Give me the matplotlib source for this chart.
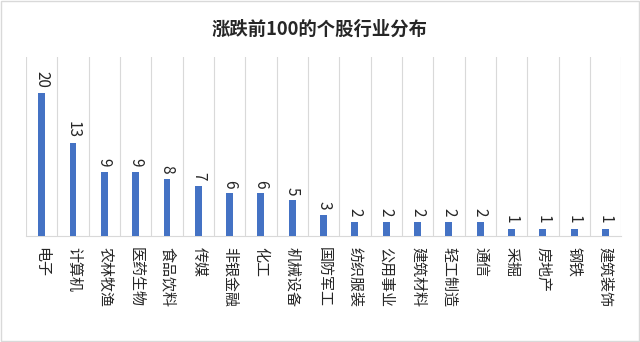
import matplotlib.pyplot as plt
import numpy as np
from matplotlib.patches import Rectangle

plt.rcParams['font.family'] = ['Noto Sans CJK SC', 'DejaVu Sans']

categories = ['电子', '计算机', '农林牧渔', '医药生物', '食品饮料', '传媒', '非银金融', '化工',
              '机械设备', '国防军工', '纺织服装', '公用事业', '建筑材料', '轻工制造', '通信',
              '采掘', '房地产', '钢铁', '建筑装饰']
values = [20, 13, 9, 9, 8, 7, 6, 6, 5, 3, 2, 2, 2, 2, 2, 1, 1, 1, 1]
title = '涨跌前100的个股行业分布'

fig = plt.figure(figsize=(6.4, 3.42), dpi=100)
ax = fig.add_axes([0.0406, 0.310, 0.930, 0.523])
x = np.arange(len(categories))
ax.bar(x, values, width=0.22, color='#4472C4', zorder=3)
ax.set_xlim(-0.5, len(categories) - 0.5)
ax.set_ylim(0, 25)
ax.set_yticks([])
ax.set_xticks(x)
ax.set_xticklabels(categories, rotation=-90, fontsize=10.8, va='top', ha='center', color='#262626')
ax.tick_params(axis='x', length=0, pad=8)
for b in np.arange(-0.5, len(categories), 1.0):
    ax.axvline(b, color='#d9d9d9', lw=0.8, zorder=1)
for s in ['top', 'left', 'right']:
    ax.spines[s].set_visible(False)
ax.spines['bottom'].set_color('#d9d9d9')
for xi, v in zip(x, values):
    ax.text(xi, v + 0.7, str(v), rotation=-90, ha='center', va='bottom', fontsize=11, color='#262626')
fig.text(0.5, 0.915, title, ha='center', va='center', fontsize=13.2, fontweight='bold', color='#262626')
fig.patches.append(Rectangle((0.002, 0.003), 0.996, 0.994, transform=fig.transFigure,
                             fill=False, edgecolor='#d9d9d9', lw=1))
fig.savefig('out.png', dpi=100)
